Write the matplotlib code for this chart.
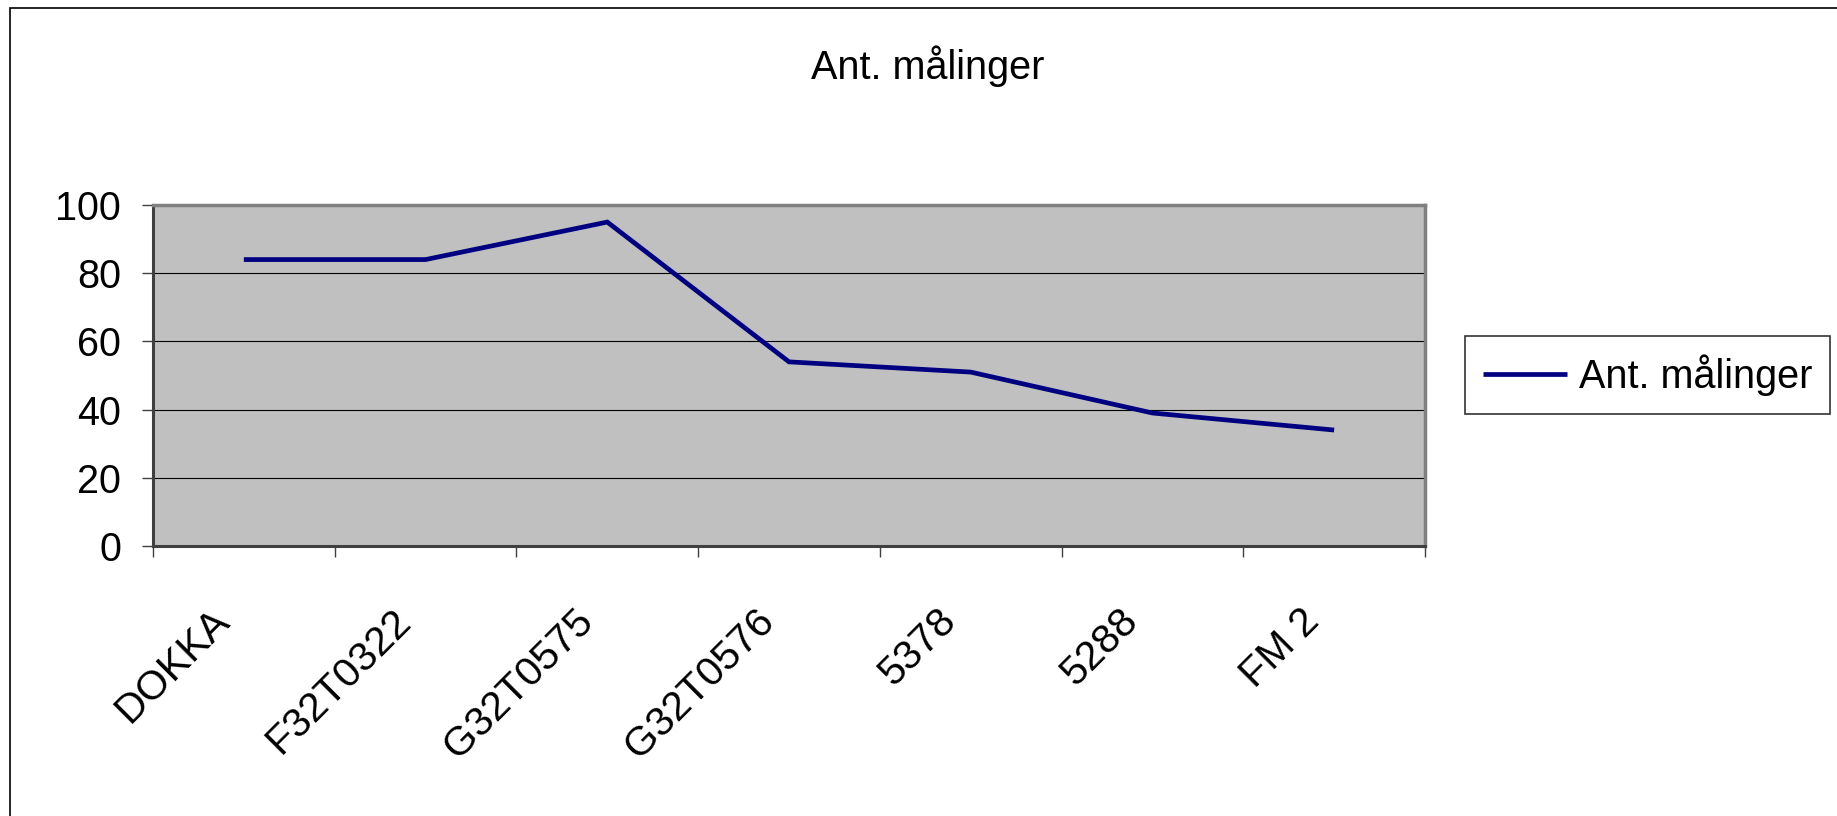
import matplotlib
matplotlib.use("Agg")
import matplotlib.pyplot as plt
from matplotlib import patches
from matplotlib.transforms import ScaledTranslation

plt.rcParams["font.family"] = ["Liberation Sans", "DejaVu Sans"]

stations = ["DOKKA", "F32T0322", "G32T0575", "G32T0576", "5378", "5288", "FM 2"]
counts = [84, 84, 95, 54, 51, 39, 34]
y_ticks = [0, 20, 40, 60, 80, 100]
title = "Ant. målinger"

LINE_COLOR = "#000080"
PLOT_BG = "#C0C0C0"
FONT_SIZE = 28.5

fig = plt.figure(figsize=(18.37, 8.16), dpi=100)

# outer chart border (only top/left visible in the original)
fig.patches.append(
    patches.Rectangle((10 / 1837, -0.1), 1.2, 1 - 8 / 816 + 0.1,
                      transform=fig.transFigure, fill=False,
                      edgecolor="black", linewidth=1.2)
)

ax = fig.add_axes([153 / 1837, 1 - 546 / 816, (1425 - 153) / 1837, (546 - 205) / 816])
ax.set_facecolor(PLOT_BG)

x = list(range(len(stations)))
ax.plot(x, counts, color=LINE_COLOR, linewidth=3.4, label=title,
        solid_joinstyle="miter", solid_capstyle="butt", zorder=3)

ax.set_xlim(-0.5, len(stations) - 0.5)
ax.set_ylim(0, 100)
ax.set_yticks(y_ticks)
ax.set_yticklabels([str(v) for v in y_ticks], fontsize=FONT_SIZE)
ax.grid(axis="y", color="black", linewidth=0.8, zorder=1)
ax.set_axisbelow(True)

# category boundaries as ticks, labels at centres
ax.set_xticks([i - 0.5 for i in range(len(stations) + 1)])
ax.set_xticklabels([])
ax.set_xticks(x, minor=True)
ax.set_xticklabels(stations, minor=True, rotation=45, ha="right", va="top",
                   rotation_mode="anchor", fontsize=29.5)
ax.tick_params(axis="x", which="minor", length=0, pad=40)
ax.tick_params(axis="x", which="major", length=8, width=1.0, color="#404040")
ax.tick_params(axis="y", length=8, width=1.0, color="#404040", pad=15)
shift = ScaledTranslation(-34 / 100, 0, fig.dpi_scale_trans)
for lbl in ax.get_xticklabels(minor=True):
    lbl.set_transform(lbl.get_transform() + shift)

for side in ["left", "bottom"]:
    ax.spines[side].set_color("#404040")
    ax.spines[side].set_linewidth(2.2)
for side in ["top", "right"]:
    ax.spines[side].set_color("#808080")
    ax.spines[side].set_linewidth(2.5)

fig.text(0.505, 1 - 66 / 816, title, ha="center", va="center", fontsize=FONT_SIZE)

leg = fig.legend(loc="center left", bbox_to_anchor=(1465 / 1837, 1 - 375 / 816),
                 fontsize=FONT_SIZE, frameon=True, fancybox=False,
                 handlelength=2.12, borderpad=0.45, handletextpad=0.3,
                 borderaxespad=0)
leg.get_frame().set_edgecolor("black")
leg.get_frame().set_linewidth(1.2)
leg.get_lines()[0].set_linewidth(3.4)

fig.savefig("out.png", dpi=100)
